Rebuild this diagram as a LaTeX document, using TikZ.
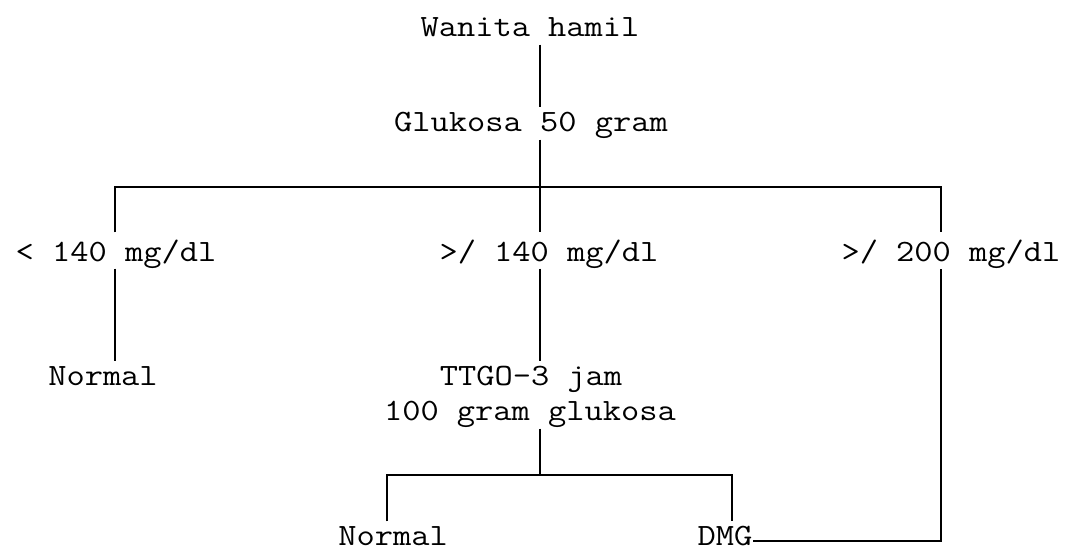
\documentclass[tikz,border=0pt]{standalone}
\usepackage{fontspec}
\setmainfont[FakeStretch=1.143]{Latin Modern Mono}
\begin{document}
\begin{tikzpicture}[x=1pt, y=-1pt, line width=1.4pt,
  lbl/.style={inner sep=0pt, anchor=base, text height=23pt, text depth=8pt,
              font=\fontsize{31}{37}\selectfont},
  tall/.style={text height=28pt, text depth=7pt},
  low/.style={text depth=2pt}]
\useasboundingbox (0,0) rectangle (1068,550);

% columns of the tree
\coordinate (spine) at (540,0);
\coordinate (lcol)  at (115,0);
\coordinate (rcol)  at (941,0);
\coordinate (bl)    at (387,0);
\coordinate (br)    at (732,0);
\coordinate (fork)  at (540,187);
\coordinate (fork2) at (540,475);

% labels
\node[lbl] (wanita)  at (530,36)  {Wanita hamil};
\node[lbl] (glukosa) at (531,131) {Glukosa 50 gram};
\node[lbl,tall] (l140) at (116,261) {< 140 mg/dl};
\node[lbl,tall] (m140) at (549,261) {>/ 140 mg/dl};
\node[lbl,tall] (r200) at (951,261) {>/ 200 mg/dl};
\node[lbl] (normA) at (103,385) {Normal};
\node[lbl] (ttgo)  at (531,385) {TTGO-3 jam};
\node[lbl] (gram)  at (530,420) {100 gram glukosa};
\node[lbl,low] (normB) at (393,545) {Normal};
\node[lbl,low] (dmg)   at (725,545) {DMG};

% connectors
\draw (wanita.south -| spine) -- (glukosa.north -| spine);
\draw (glukosa.south -| spine) -- (m140.north -| spine);
\draw (m140.south -| spine) -- (ttgo.north -| spine);
\draw (l140.north -| lcol) |- (fork) -| (r200.north -| rcol);
\draw (l140.south -| lcol) -- (normA.north -| lcol);
\draw (gram.south -| spine) -- (fork2);
\draw (normB.north -| bl) |- (fork2) -| (dmg.north -| br);
\draw ([yshift=4pt]dmg.base east) -| (r200.south -| rcol);
\end{tikzpicture}
\end{document}
